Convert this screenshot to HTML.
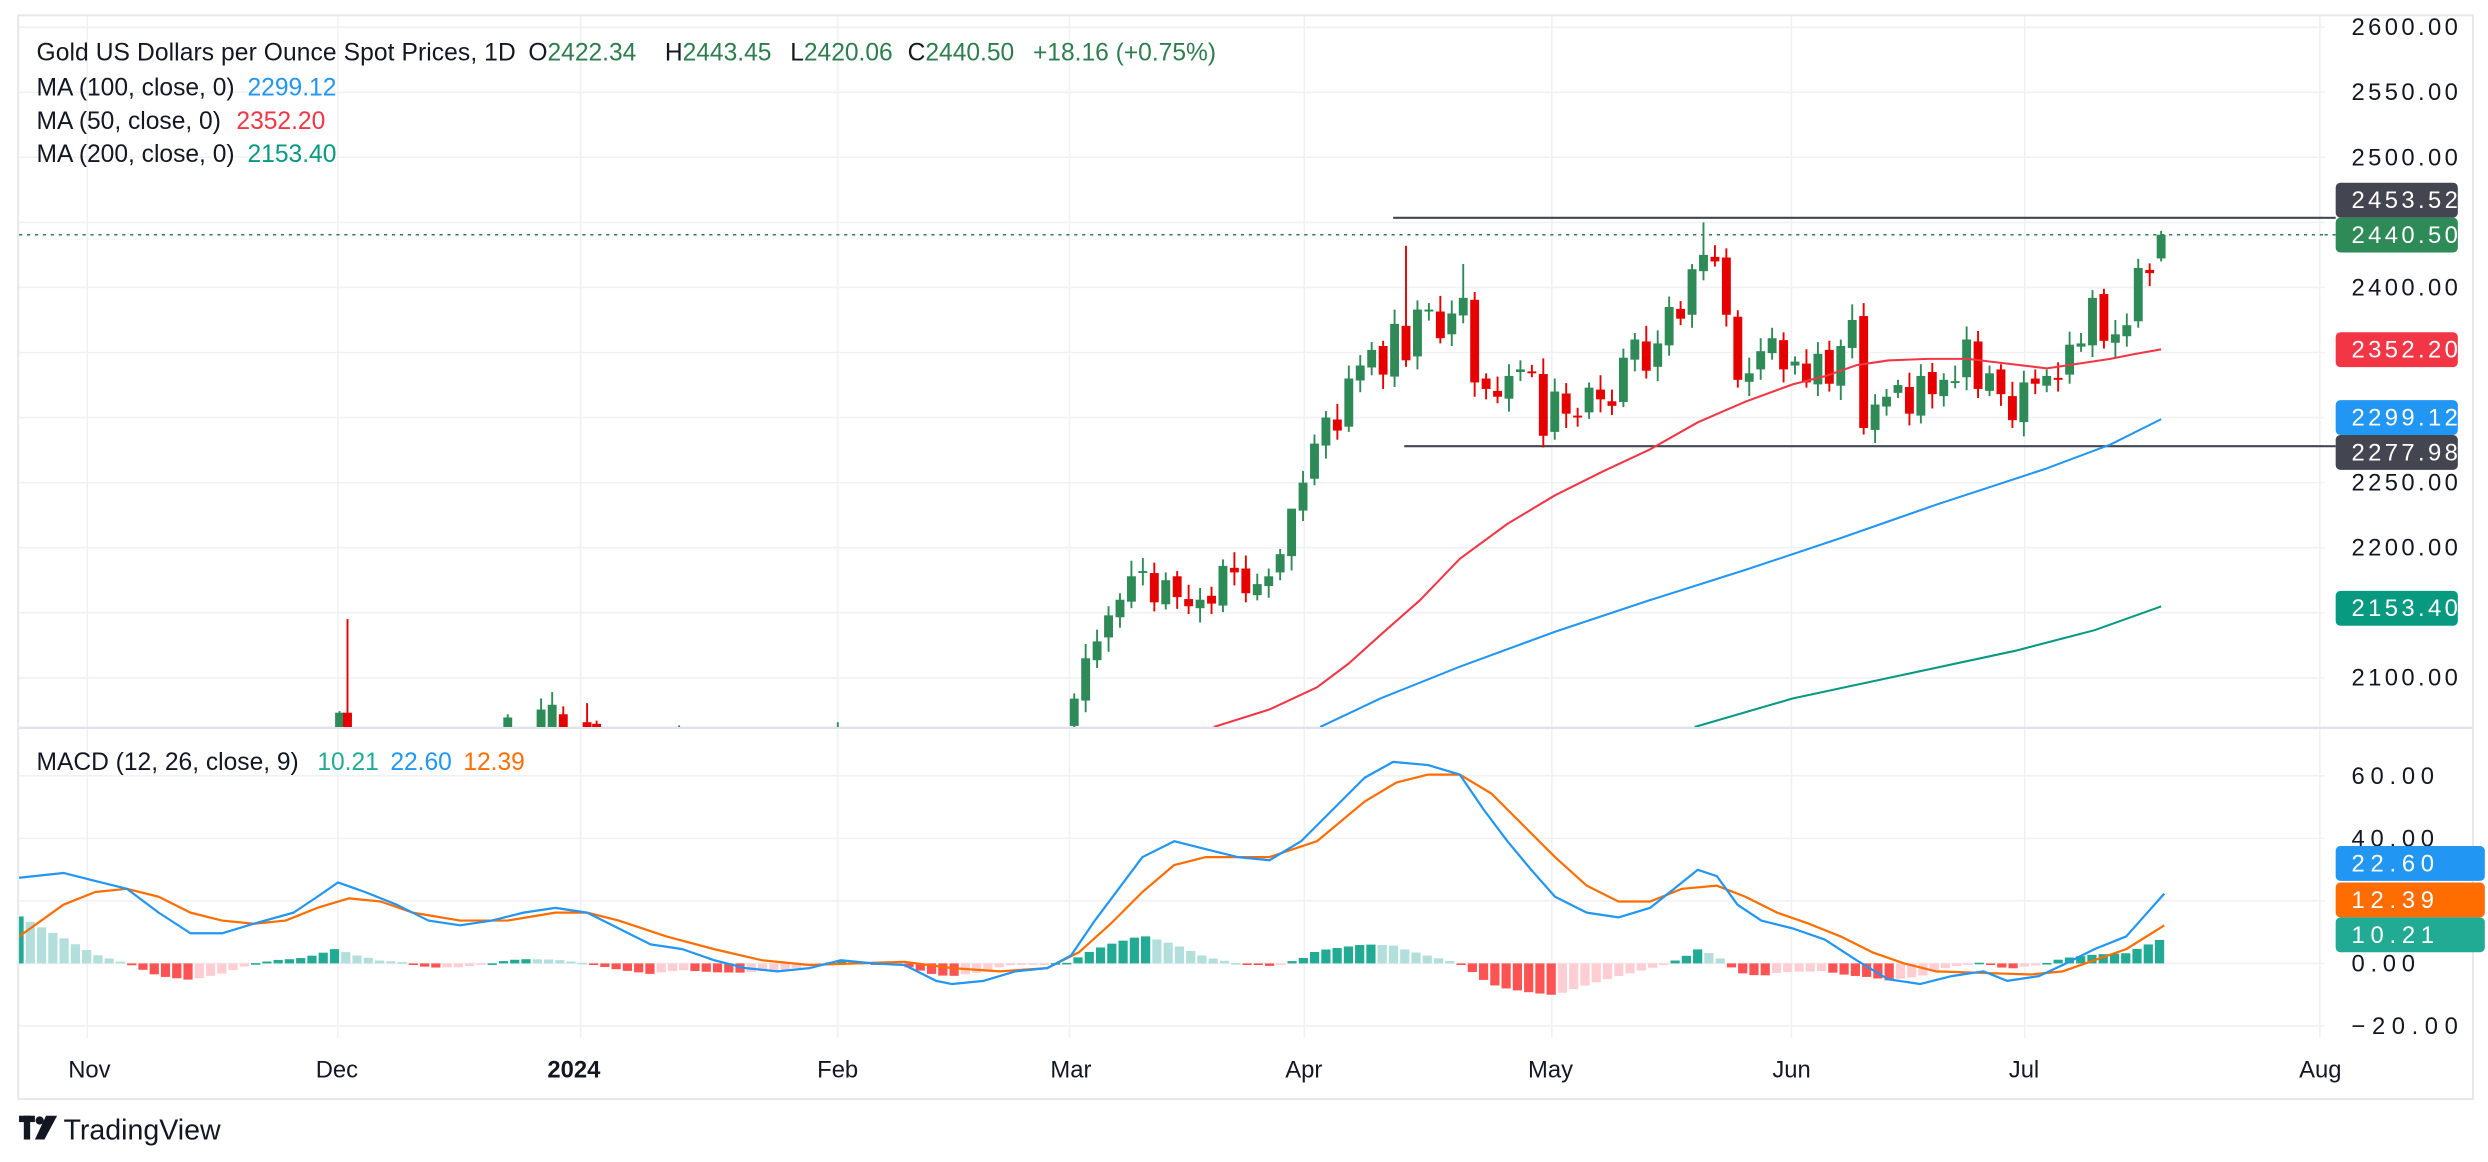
<!DOCTYPE html>
<html><head><meta charset="utf-8">
<style>
html,body{margin:0;padding:0;background:#fff;}
svg{display:block;}
text{font-family:"Liberation Sans",sans-serif;}
</style></head>
<body>
<svg id="s" width="2488" height="1162" viewBox="0 0 1568 732" xmlns="http://www.w3.org/2000/svg">
<defs>
<clipPath id="cp"><rect x="12" y="10" width="1453" height="448"/></clipPath>
<clipPath id="cm"><rect x="12" y="459" width="1453" height="195"/></clipPath>
</defs>
<rect x="0" y="0" width="1568" height="732" fill="#fff"/>
<g id="grid" stroke="#f0f1f4" stroke-width="1"></g>
<rect x="11.5" y="9.5" width="1547" height="683" fill="none" stroke="#e6e7ec" stroke-width="1.2"/>
<line x1="12" y1="458.5" x2="1558" y2="458.5" stroke="#e0e3eb" stroke-width="1.5"/>
<g id="price" clip-path="url(#cp)"></g>
<g id="macd" clip-path="url(#cm)"></g>
<g id="axis"></g>
<g font-size="15.5" fill="#131722">
<text x="23" y="38" textLength="302">Gold US Dollars per Ounce Spot Prices, 1D</text>
<text x="333" y="38">O<tspan fill="#2e7d4f">2422.34</tspan></text>
<text x="419" y="38">H<tspan fill="#2e7d4f">2443.45</tspan></text>
<text x="498" y="38">L<tspan fill="#2e7d4f">2420.06</tspan></text>
<text x="572" y="38">C<tspan fill="#2e7d4f">2440.50</tspan></text>
<text x="651" y="38" fill="#2e7d4f">+18.16 (+0.75%)</text>
<text x="23" y="60">MA (100, close, 0)</text><text x="156" y="60" fill="#2196f3">2299.12</text>
<text x="23" y="81">MA (50, close, 0)</text><text x="149" y="81" fill="#f23645">2352.20</text>
<text x="23" y="102">MA (200, close, 0)</text><text x="156" y="102" fill="#089981">2153.40</text>
<text x="23" y="485">MACD (12, 26, close, 9)</text>
<text x="200" y="485" fill="#22ab94">10.21</text>
<text x="246" y="485" fill="#2196f3">22.60</text>
<text x="292" y="485" fill="#ff6d00">12.39</text>
</g>
<g font-size="15" fill="#131722">
<text x="43" y="679">Nov</text>
<text x="199" y="679">Dec</text>
<text x="345" y="679" font-weight="bold">2024</text>
<text x="515" y="679">Feb</text>
<text x="662" y="679">Mar</text>
<text x="810" y="679">Apr</text>
<text x="963" y="679">May</text>
<text x="1117" y="679">Jun</text>
<text x="1266" y="679">Jul</text>
<text x="1449" y="679">Aug</text>
</g>
<g fill="#131722">
<rect x="12" y="703" width="10" height="4"/><rect x="15" y="703" width="4" height="15"/>
<circle cx="25" cy="706" r="2.6"/><polygon points="29,703 36,703 28,718 22,718"/>
<text x="40" y="718" font-size="18">TradingView</text>
</g>
</svg>
<script>
var NS="http://www.w3.org/2000/svg";
function el(p,t,a,txt){var e=document.createElementNS(NS,t);for(var k in a)e.setAttribute(k,a[k]);if(txt!==undefined)e.textContent=txt;p.appendChild(e);return e;}
var s=document.getElementById('s'),G=document.getElementById('grid'),P=document.getElementById('price'),M=document.getElementById('macd'),A=document.getElementById('axis');
function py(p){return 17+(2600-p)*0.82;}
function my(v){return 607-v*1.97;}
[2600,2550,2500,2450,2400,2350,2300,2250,2200,2150,2100].forEach(function(p){el(G,'line',{x1:12,x2:1465,y1:py(p),y2:py(p)});});
[60,40,20,0,-20].forEach(function(v){el(G,'line',{x1:12,x2:1465,y1:my(v),y2:my(v)});});
[55,213,366,528,674,822,978,1129,1276,1462].forEach(function(x){el(G,'line',{x1:x,x2:x,y1:10,y2:654});});
[2600,2550,2500,2400,2250,2200,2100].forEach(function(p){el(A,'text',{x:1482,y:py(p)+5,'font-size':15,fill:'#131722',textLength:67},p.toFixed(2));});
[[60,"60.00",52],[40,"40.00",52],[0,"0.00",40],[-20,"\u221220.00",67]].forEach(function(v){el(A,'text',{x:1482,y:my(v[0])+5,'font-size':15,fill:'#131722',textLength:v[2]},v[1]);});
el(P,'line',{x1:12,x2:1472,y1:py(2440.5),y2:py(2440.5),stroke:'#2e7d4f','stroke-width':1,'stroke-dasharray':'2 3'});
el(P,'line',{x1:878,x2:1472,y1:py(2453.52),y2:py(2453.52),stroke:'#434651','stroke-width':1.3});
el(P,'line',{x1:885,x2:1472,y1:py(2277.98),y2:py(2277.98),stroke:'#434651','stroke-width':1.3});
el(A,'line',{x1:1465,x2:1472,y1:py(2453.52),y2:py(2453.52),stroke:'#434651','stroke-width':1.3});
el(A,'line',{x1:1465,x2:1472,y1:py(2277.98),y2:py(2277.98),stroke:'#434651','stroke-width':1.3});
el(A,'line',{x1:1465,x2:1472,y1:py(2440.5),y2:py(2440.5),stroke:'#2e7d4f','stroke-width':1,'stroke-dasharray':'2 3'});
var C=[2084,2115,2128,2148,2160,2178,2182,2158,2175,2162,2155,2160,2157,2186,2181,2165,2172,2178,2195,2230,2250,2280,2300,2290,2330,2340,2352,2333,2372,2344,2383,2383,2361,2380,2392,2327,2322,2316,2332,2337,2335,2286,2320,2303,2301,2323,2314,2309,2346,2360,2336,2357,2385,2376,2414,2425,2420,2379,2329,2334,2351,2361,2337,2343,2327,2349,2326,2355,2375,2292,2310,2316,2325,2303,2332,2318,2329,2328,2360,2322,2334,2318,2298,2327,2326,2332,2330,2356,2357,2392,2359,2364,2371,2415,2411,2440.5];
var step=(1362-677)/(C.length-1);
var hiX={19:2225,29:2432,34:2418,55:2450};
var prev=2060;
for(var i=0;i<C.length;i++){
 var last=(i==C.length-1);
 var o=last?2422.3:prev+(i%3==0?2:-1)*1.5,c=C[i];
 var up=c>=o,col=up?'#2e8b57':'#e60000';
 var hi=Math.max(o,c)+4+(i*7%9),lo=Math.min(o,c)-4-(i*5%8);
 if(hiX[i])hi=hiX[i];
 if(last){hi=2443.45;lo=2420;}
 var x=677+i*step;
 el(P,'line',{x1:x,x2:x,y1:py(hi),y2:py(lo),stroke:col,'stroke-width':1.2});
 var y1=py(Math.max(o,c)),y2=py(Math.min(o,c));
 el(P,'rect',{x:x-2.8,y:y1,width:5.6,height:Math.max(1.2,y2-y1),fill:col});
 prev=c;
}
[[214,448,462,'#2e8b57',449,462],[219,390,462,'#e60000',449,462],[320,450,462,'#2e8b57',452,462],[341,440,462,'#2e8b57',447,462],[348,436,462,'#2e8b57',444,462],[355,445,462,'#e60000',450,462],[370,443,462,'#e60000',455,462],[376,454,462,'#e60000',456,462],[393,458,462,'#2e8b57',459,462],[428,457,462,'#2e8b57',459,462],[528,455,462,'#2e8b57',458,462]].forEach(function(b){
 el(P,'line',{x1:b[0],x2:b[0],y1:b[1],y2:b[2],stroke:b[3],'stroke-width':1.2});
 el(P,'rect',{x:b[0]-2.8,y:b[4],width:5.6,height:b[5]-b[4],fill:b[3]});
});
function poly(g,pts,col,w){el(g,'polyline',{points:pts.map(function(p){return p.join(',');}).join(' '),fill:'none',stroke:col,'stroke-width':w||1.3,'stroke-linejoin':'round'});}
poly(P,[[765,458],[800,447],[830,433],[850,418],[870,400],[895,378],[920,352],[950,330],[980,312],[1010,297],[1040,283],[1070,266],[1100,253],[1130,242],[1150,237],[1170,230],[1190,227],[1215,226],[1240,226],[1265,229],[1290,232],[1310,229],[1330,226],[1345,223],[1362,220]],'#f23645');
poly(P,[[832,458],[870,440],[920,420],[980,398],[1040,378],[1100,359],[1160,339],[1220,318],[1290,295],[1330,280],[1362,264]],'#2196f3');
poly(P,[[1068,458],[1130,440],[1200,425],[1270,410],[1320,397],[1362,382]],'#089981');
var B=[[12,553],[40,550],[60,555],[80,560],[100,575],[120,588],[140,588],[160,582],[185,575],[200,565],[213,556],[230,562],[250,570],[270,580],[290,583],[310,580],[330,575],[350,572],[370,575],[390,585],[410,595],[430,598],[450,605],[470,610],[490,612],[510,610],[530,605],[550,607],[570,608],[590,618],[600,620],[620,618],[640,612],[660,610],[675,602],[690,580],[705,560],[720,540],[740,530],[760,535],[780,540],[800,542],[820,530],[840,510],[860,490],[878,480],[900,482],[920,488],[935,510],[950,530],[965,548],[980,565],[1000,575],[1020,578],[1040,572],[1055,560],[1070,548],[1082,552],[1095,570],[1110,580],[1130,585],[1150,592],[1170,605],[1190,617],[1210,620],[1230,615],[1250,612],[1265,618],[1285,615],[1300,608],[1320,598],[1340,590],[1364,563]];
var O=[[12,590],[40,570],[60,562],[80,560],[100,565],[120,575],[140,580],[160,582],[180,580],[200,572],[220,566],[240,568],[260,575],[290,580],[320,580],[350,575],[370,575],[390,580],[420,590],[450,598],[480,605],[510,608],[540,607],[570,606],[600,610],[630,612],[660,610],[680,600],[700,582],[720,562],[740,545],[760,540],[800,540],[830,530],[860,505],[880,493],[900,488],[920,488],[940,500],[960,520],[980,540],[1000,558],[1020,568],[1040,568],[1060,560],[1082,558],[1100,565],[1120,575],[1140,582],[1160,590],[1180,600],[1200,607],[1220,612],[1250,613],[1280,614],[1300,612],[1320,605],[1340,598],[1364,583]];
function interp(a,x){for(var i=0;i<a.length-1;i++){if(x<=a[i+1][0]){var t=(x-a[i][0])/(a[i+1][0]-a[i][0]);return a[i][1]+t*(a[i+1][1]-a[i][1]);}}return a[a.length-1][1];}
var ph=null;
for(var x=12;x<=1364;x+=7.1){
 var h=(interp(O,x)-interp(B,x))*0.8;
 var col;
 if(h>=0)col=(ph!==null&&h<ph)?'#b2dfdb':'#22ab94';else col=(ph!==null&&h<ph)?'#ff5252':'#ffcdd2';
 var y=h>=0?607-h:607;
 el(M,'rect',{x:x-2.9,y:y,width:5.8,height:Math.max(1,Math.abs(h)),fill:col});
 ph=h;
}
poly(M,O,'#ff6d00',1.4);
poly(M,B,'#2196f3',1.4);
function tag(y,txt,bg,w,tl){el(A,'rect',{x:1472,y:y-11,width:w||77,height:22,rx:3,fill:bg});el(A,'text',{x:1482,y:y+5,'font-size':15,fill:'#fff',textLength:tl||67},txt);}
tag(126,'2453.52','#434651');
tag(148,'2440.50','#2e8b57');
tag(py(2352.2),'2352.20','#f23645');
tag(263,'2299.12','#2196f3');
tag(285,'2277.98','#434651');
tag(py(2153.4),'2153.40','#089981');
tag(544,'22.60','#2196f3',94,52);
tag(567,'12.39','#ff6d00',94,52);
tag(589,'10.21','#22ab94',94,52);
</script>
</body></html>
